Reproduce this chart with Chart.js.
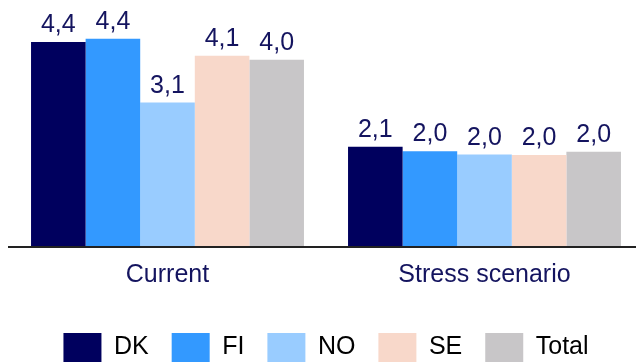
<!DOCTYPE html>
<html>
<head>
<meta charset="utf-8">
<script src="https://cdn.jsdelivr.net/npm/chart.js@4/dist/chart.umd.min.js"></script>
<style>
  html, body { margin: 0; padding: 0; background: #ffffff; overflow: hidden; width: 636px; height: 362px; }
  #wrap { position: absolute; left: 0; top: 0; }
</style>
</head>
<body>
<div id="wrap"><canvas id="chart" width="643" height="372"></canvas></div>
<script>
// Scenarios on the category axis
const categories = ['Current', 'Stress scenario'];

// One value per scenario for each country and the total
const seriesNames = ['DK', 'FI', 'NO', 'SE', 'Total'];
const dkValues    = [4.37, 2.14];
const fiValues    = [4.44, 2.04];
const noValues    = [3.08, 1.97];
const seValues    = [4.08, 1.96];
const totalValues = [3.99, 2.03];

const seriesColors = ['#00005e', '#3399ff', '#99ccff', '#f8d8ca', '#c8c6c8'];
const labelColor = '#14145f';
const fontFamily = '"Liberation Sans", Arial, sans-serif';

const seriesValues = [dkValues, fiValues, noValues, seValues, totalValues];

// Writes each bar's value above it, with a decimal comma
const valueLabels = {
  id: 'valueLabels',
  afterDatasetsDraw(chart) {
    const ctx = chart.ctx;
    ctx.save();
    ctx.font = '25px ' + fontFamily;
    ctx.fillStyle = labelColor;
    ctx.textAlign = 'center';
    ctx.textBaseline = 'alphabetic';
    chart.data.datasets.forEach((ds, i) => {
      chart.getDatasetMeta(i).data.forEach((bar, j) => {
        const txt = ds.data[j].toFixed(1).replace('.', ',');
        ctx.fillText(txt, bar.x, bar.y - 10);
      });
    });
    ctx.restore();
  }
};

new Chart(document.getElementById('chart'), {
  type: 'bar',
  data: {
    labels: categories,
    datasets: seriesNames.map((name, i) => ({
      label: name,
      data: seriesValues[i],
      backgroundColor: seriesColors[i],
      borderWidth: 0,
      barPercentage: 1.0,
      categoryPercentage: 0.861
    }))
  },
  options: {
    responsive: false,
    animation: false,
    layout: { padding: { left: 9, right: 0, top: 12.5, bottom: 0 } },
    scales: {
      x: {
        grid: { display: false, drawTicks: false },
        border: { display: true, color: '#222222', width: 2, z: 1 },
        ticks: {
          color: labelColor,
          font: { family: fontFamily, size: 25 },
          padding: 13.5
        },
        // extra room between the scenario names and the legend
        afterFit(scale) { scale.height += 6; }
      },
      y: {
        display: false,
        min: 0,
        max: 5
      }
    },
    plugins: {
      legend: {
        position: 'bottom',
        labels: {
          color: '#000000',
          font: { family: fontFamily, size: 25 },
          boxWidth: 38,
          boxHeight: 29,
          padding: 23
        }
      },
      tooltip: { enabled: false }
    }
  },
  plugins: [valueLabels]
});
</script>
</body>
</html>
